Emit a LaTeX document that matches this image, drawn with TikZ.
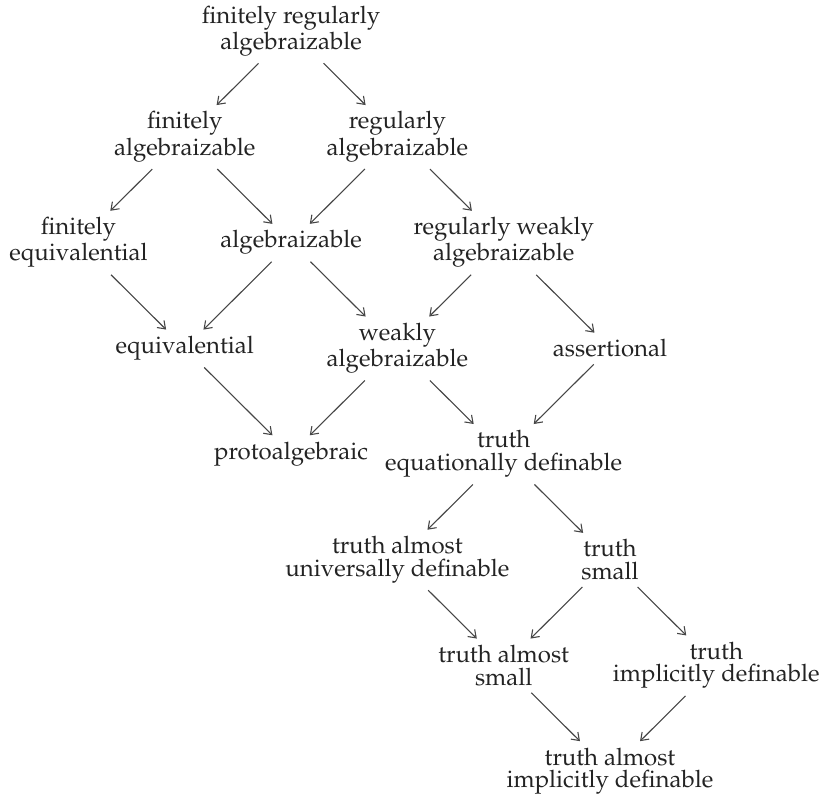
\documentclass[tikz,border=0pt]{standalone}
\usepackage[T1]{fontenc}
\usepackage{mathpazo}
\usepackage{tikz}
\usetikzlibrary{arrows.meta}
\definecolor{Cink}{RGB}{35, 35, 35}
\definecolor{Cline}{RGB}{70, 70, 70}
\tikzset{
    cls/.style={
        align=center, text=Cink, inner sep=2pt,
        font=\fontsize{12}{11.3}\selectfont
    },
    imp/.style={-{Straight Barb[length=3.5pt, width=5pt]}, line width=0.55pt, Cline,
        shorten <=2pt, shorten >=1.5pt},
}

\begin{document}
\begin{tikzpicture}[x=53.15pt, y=-52.86pt]

    \useasboundingbox (-0.7385,-0.2933) rectangle (6.9755,7.247);

    % ── classes (one lattice step per row) ─────────────────
    \node [cls] (fra) at (2,0) {finitely regularly\\algebraizable};

    \node [cls] (fal) at (1,1) {finitely\\algebraizable};
    \node [cls] (ral) at (3,1) {regularly\\algebraizable};

    \node [cls] (feq) at (0,2) {finitely\\equivalential};
    \node [cls] (alg) at (2,2) {algebraizable};
    \node [cls] (rwa) at (4,2) {regularly weakly\\algebraizable};

    \node [cls] (equ) at (1,3) {equivalential};
    \node [cls] (wal) at (3,3) {weakly\\algebraizable};
    \node [cls] (ass) at (5,3) {assertional};

    \node [cls] (pro) at (2,4) {protoalgebraic};
    \node [cls] (ted) at (4,4) {truth\\equationally definable};

    \node [cls] (tau) at (3,5) {truth almost\\universally definable};
    \node [cls] (tsm) at (5,5) {truth\\small};

    \node [cls] (tas) at (4,6) {truth almost\\small};
    \node [cls] (tid) at (6,6) {truth\\implicitly definable};

    \node [cls] (tai) at (5,7) {truth almost\\implicitly definable};

    % ── implications ───────────────────────────────────────
    \draw [imp] (fra) -- (fal);
    \draw [imp] (fra) -- (ral);
    \draw [imp] (fal) -- (feq);
    \draw [imp] (fal) -- (alg);
    \draw [imp] (ral) -- (alg);
    \draw [imp] (ral) -- (rwa);
    \draw [imp] (feq) -- (equ);
    \draw [imp] (alg) -- (equ);
    \draw [imp] (alg) -- (wal);
    \draw [imp] (rwa) -- (wal);
    \draw [imp] (rwa) -- (ass);
    \draw [imp] (equ) -- (pro);
    \draw [imp] (wal) -- (pro);
    \draw [imp] (wal) -- (ted);
    \draw [imp] (ass) -- (ted);
    \draw [imp] (ted) -- (tau);
    \draw [imp] (ted) -- (tsm);
    \draw [imp] (tau) -- (tas);
    \draw [imp] (tsm) -- (tas);
    \draw [imp] (tsm) -- (tid);
    \draw [imp] (tas) -- (tai);
    \draw [imp] (tid) -- (tai);

\end{tikzpicture}
\end{document}
